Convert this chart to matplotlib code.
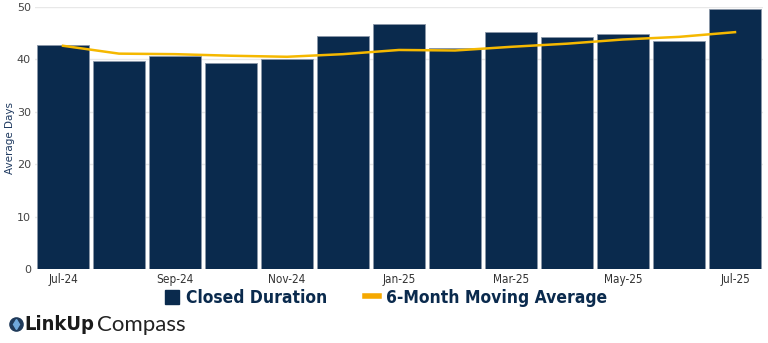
import numpy as np
import matplotlib.pyplot as plt
from matplotlib.patches import Patch
from matplotlib.lines import Line2D

months = ['Jul-24', 'Aug-24', 'Sep-24', 'Oct-24', 'Nov-24', 'Dec-24', 'Jan-25',
          'Feb-25', 'Mar-25', 'Apr-25', 'May-25', 'Jun-25', 'Jul-25']
closed_duration = [42.7, 39.7, 40.6, 39.3, 40.0, 44.4, 46.7, 42.1, 45.2, 44.2, 44.8, 43.6, 49.6]
moving_avg = [42.6, 41.1, 41.0, 40.7, 40.5, 41.0, 41.8, 41.7, 42.4, 43.0, 43.8, 44.3, 45.2]

navy = '#0a2a4d'
gold = '#f5b800'

fig = plt.figure(figsize=(7.68, 3.43), dpi=100)
ax = fig.add_axes([35 / 768, 1 - 269 / 343, 728 / 768, 262 / 343])

x = np.arange(len(months))
ax.bar(x, closed_duration, width=0.92, color=navy, edgecolor='#8a97a8', linewidth=0.6, zorder=2)
ax.plot(x, moving_avg, color=gold, linewidth=1.8, zorder=3)

ax.set_xlim(-0.5, len(months) - 0.5)
ax.set_ylim(0, 50)
ax.set_yticks([0, 10, 20, 30, 40, 50])
ax.set_xticks(x[::2])
ax.set_xticklabels(months[::2])
ax.grid(axis='y', color='#e8e8e8', linewidth=1, zorder=0)
for s in ax.spines.values():
    s.set_visible(False)
ax.tick_params(axis='both', length=0, colors='#333333', pad=3)
for lbl in ax.get_xticklabels():
    lbl.set_family('DejaVu Sans')
    lbl.set_stretch('condensed')
    lbl.set_fontsize(8.5)
for lbl in ax.get_yticklabels():
    lbl.set_family('DejaVu Sans')
    lbl.set_fontsize(8)
    lbl.set_color('#444444')
ax.set_ylabel('Average Days', color='#1f3a60', fontsize=7.5, family='DejaVu Sans')
ax.yaxis.set_label_coords(-0.027, 0.5)

handles = [Patch(facecolor=navy, edgecolor=navy),
           Line2D([0], [0], color='#f5a800', linewidth=4)]
leg = fig.legend(handles, ['Closed Duration', '6-Month Moving Average'], loc='center',
                 bbox_to_anchor=(0.503, 1 - 298 / 343), ncol=2, frameon=False,
                 prop={'family': 'DejaVu Sans', 'stretch': 'condensed', 'weight': 'bold', 'size': 12.5},
                 handlelength=0.8, handleheight=0.9, handletextpad=0.4, columnspacing=2.2)
for t in leg.get_texts():
    t.set_color(navy)

# logo
fig.add_artist(Line2D([16 / 768], [1 - 324 / 343], marker='o', markersize=9.5,
                      color='#1f3a5a', transform=fig.transFigure))
fig.add_artist(Line2D([16 / 768], [1 - 324 / 343], marker='d', markersize=5,
                      color='#6fa8dc', transform=fig.transFigure))
fig.text(24 / 768, 1 - 325 / 343, 'LinkUp', color='#1a1a1a', fontsize=14.5, weight='bold',
         family='DejaVu Sans', stretch='condensed', va='center')
fig.text(97 / 768, 1 - 325 / 343, 'Compass', color='#222222', fontsize=16,
         family='Lato', va='center')

fig.savefig('out.png', dpi=100)
